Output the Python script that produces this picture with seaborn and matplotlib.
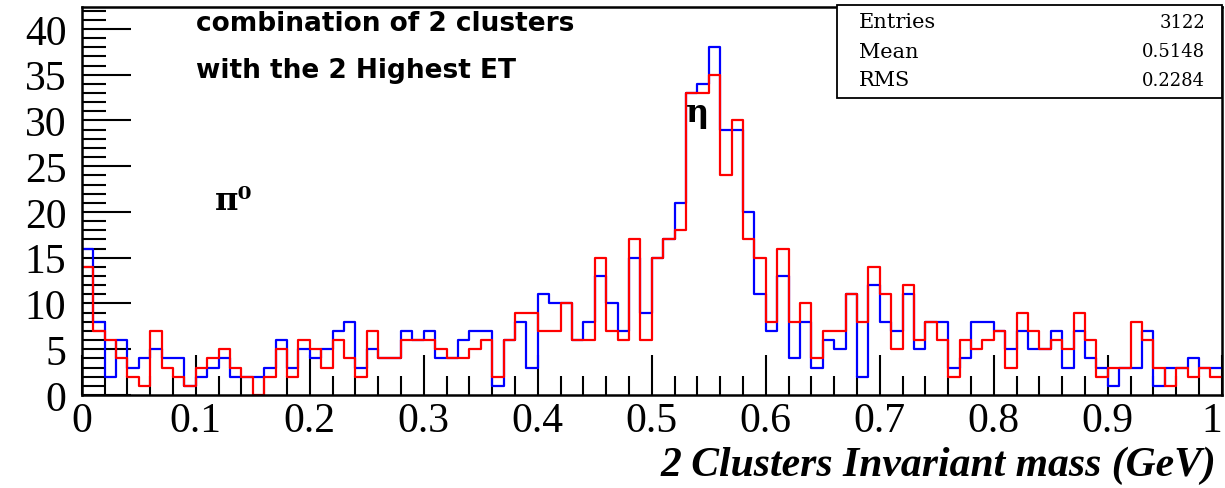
import numpy as np
import pandas as pd
import matplotlib
matplotlib.use("Agg")
import matplotlib.pyplot as plt
from matplotlib.patches import Rectangle
from matplotlib.ticker import MultipleLocator
import seaborn as sns

# ---------------- data (100 bins, 0..1 GeV) ----------------
bin_lo = 0.0
bin_hi = 1.0
n_bins = 100
blue_counts = [16, 8, 2, 6, 3, 4, 5, 4, 4, 1,
               2, 3, 4, 2, 2, 2, 3, 6, 3, 5,
               4, 5, 7, 8, 3, 5, 4, 4, 7, 6,
               7, 4, 4, 6, 7, 7, 1, 6, 8, 3,
               11, 10, 10, 6, 8, 13, 10, 7, 15, 9,
               15, 17, 21, 33, 34, 38, 29, 29, 20, 11,
               7, 13, 4, 8, 3, 6, 5, 11, 2, 12,
               8, 7, 11, 5, 8, 8, 3, 4, 8, 8,
               7, 5, 7, 5, 5, 7, 3, 7, 4, 3,
               1, 3, 3, 7, 1, 3, 3, 4, 3, 3]
red_counts = [14, 7, 6, 4, 2, 1, 7, 3, 2, 1,
              3, 4, 5, 3, 2, 0, 2, 5, 2, 6,
              5, 3, 6, 4, 2, 7, 4, 4, 6, 6,
              6, 5, 4, 4, 5, 6, 2, 6, 9, 9,
              7, 7, 10, 6, 6, 15, 7, 6, 17, 6,
              15, 17, 18, 33, 33, 35, 24, 30, 17, 15,
              8, 16, 8, 10, 4, 7, 7, 11, 8, 14,
              11, 5, 12, 6, 8, 6, 2, 6, 5, 6,
              7, 3, 9, 7, 5, 6, 5, 9, 6, 2,
              3, 3, 8, 6, 3, 1, 3, 2, 3, 2]
x_tick_labels = ["0", "0.1", "0.2", "0.3", "0.4", "0.5", "0.6", "0.7", "0.8", "0.9", "1"]
y_tick_values = [0, 5, 10, 15, 20, 25, 30, 35, 40]
stats_names = ["Entries", "Mean", "RMS"]
stats_values = ["3122", "0.5148", "0.2284"]
title_lines = ["combination of 2 clusters", "with the 2 Highest ET"]
x_label = "2 Clusters Invariant mass (GeV)"

edges = np.linspace(bin_lo, bin_hi, n_bins + 1)
centers = 0.5 * (edges[:-1] + edges[1:])
df = pd.DataFrame({"mass": centers,
                   "blue": np.asarray(blue_counts, dtype=float),
                   "red": np.asarray(red_counts, dtype=float)})

# ---------------- figure ----------------
sns.set_style("white")
plt.rcParams["font.family"] = ["Liberation Serif", "DejaVu Serif"]
for key in ["text.color", "axes.labelcolor", "xtick.color", "ytick.color", "axes.edgecolor"]:
    plt.rcParams[key] = "black"

W, H = 1225, 489
fig = plt.figure(figsize=(W / 100, H / 100), dpi=100)
ax = fig.add_axes([81.7 / W, 1 - 396 / H, (1221.7 - 81.7) / W, (396 - 8) / H])

sns.histplot(data=df, x="mass", weights="blue", bins=n_bins, binrange=(bin_lo, bin_hi),
             element="step", fill=False, color="#0000ff", linewidth=1.6, ax=ax)
sns.histplot(data=df, x="mass", weights="red", bins=n_bins, binrange=(bin_lo, bin_hi),
             element="step", fill=False, color="#ff0000", linewidth=1.6, ax=ax)

ax.set_xlim(0, 1)
ax.set_ylim(0, 42.4)
ax.set_xticks(np.linspace(0, 1, 11))
ax.set_xticklabels(x_tick_labels)
ax.xaxis.set_minor_locator(MultipleLocator(0.02))
ax.set_yticks(y_tick_values)
ax.set_yticklabels([str(v) for v in y_tick_values])
ax.yaxis.set_minor_locator(MultipleLocator(1))
ax.tick_params(axis="x", which="major", direction="in", length=29, width=1.5,
               labelsize=30, pad=5, bottom=True, top=False, color="black")
ax.tick_params(axis="x", which="minor", direction="in", length=14, width=1.5,
               bottom=True, top=False, color="black")
ax.tick_params(axis="y", which="major", direction="in", length=35, width=1.5,
               labelsize=30, pad=11, left=True, right=False, color="black")
ax.tick_params(axis="y", which="minor", direction="in", length=17, width=1.5,
               left=True, right=False, color="black")
xt = ax.get_xticklabels()
xt[-1].set_horizontalalignment("right")
for sp in ax.spines.values():
    sp.set_color("black")
    sp.set_linewidth(1.8)
ax.set_xlabel("")
ax.set_ylabel("")

# x-axis label, right aligned
fig.text(1216 / W, 1 - 466 / H, x_label, ha="right", va="center",
         fontsize=30, fontweight="bold", fontstyle="italic",
         family=["Liberation Serif", "DejaVu Serif"])

# title lines
ax.text(0.1, 40.6, title_lines[0], ha="left", va="center", fontsize=19,
        fontweight="bold", family=["DejaVu Sans"])
ax.text(0.1, 35.5, title_lines[1], ha="left", va="center", fontsize=19,
        fontweight="bold", family=["DejaVu Sans"])

# particle labels
ax.text(0.117, 21.3, "π⁰", ha="left", va="center", fontsize=23,
        fontweight="bold", family=["DejaVu Serif"])
ax.text(0.53, 30.9, "η", ha="left", va="center", fontsize=23,
        fontweight="bold", family=["DejaVu Serif"])

# stats box (figure coordinates)
bx0, bx1, by0, by1 = 837 / W, 1222 / W, 1 - 99 / H, 1 - 6 / H
fig.patches.append(Rectangle((bx0, by0), bx1 - bx0, by1 - by0,
                             transform=fig.transFigure, facecolor="white",
                             edgecolor="black", linewidth=1.3, zorder=5))
for k, (nm, val) in enumerate(zip(stats_names, stats_values)):
    yy = 1 - (23 + 29 * k) / H
    fig.text(859 / W, yy, nm, ha="left", va="center", fontsize=15, zorder=6,
             family=["DejaVu Serif"])
    fig.text(1205 / W, yy, val, ha="right", va="center", fontsize=13, zorder=6,
             family=["DejaVu Serif"])

fig.savefig("out.png", dpi=100, facecolor="white")
